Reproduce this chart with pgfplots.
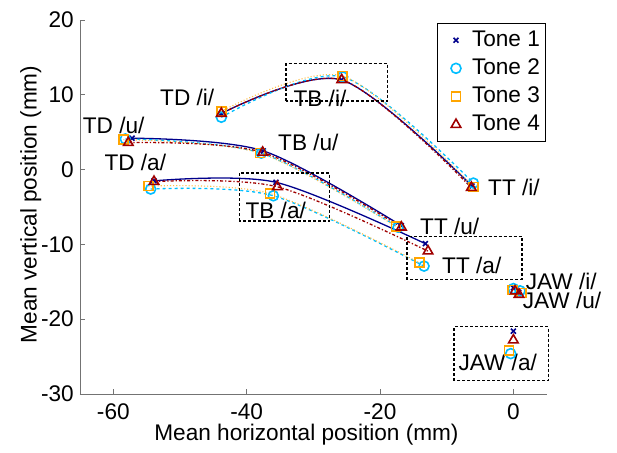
\documentclass[border=0pt]{standalone}
\usepackage{fontspec}
\setmainfont{Liberation Sans}
\usepackage{pgfplots}
\pgfplotsset{compat=1.18}
\definecolor{tone1}{RGB}{0,0,140}
\definecolor{tone2}{RGB}{0,190,255}
\definecolor{tone3}{RGB}{255,165,0}
\definecolor{tone4}{RGB}{160,0,0}
\begin{document}
\fontsize{22.7}{27}\selectfont
\begin{tikzpicture}
\begin{axis}[
 scale only axis, width=466.7bp, height=374bp,
 xmin=-65,xmax=5,ymin=-30,ymax=20,
 axis x line*=bottom, axis y line*=left,
 axis line style={-, black!55, line width=0.7bp},
 xtick={-60,-40,-20,0}, ytick={-30,-20,-10,0,10,20},
 tick align=inside, major tick length=5bp,
 tick style={black!55,line width=0.7bp},
 /pgf/number format/assume math mode=true,
 tick label style={font=\fontsize{22.7}{26}\selectfont},
 xticklabel style={yshift=-2bp},
 yticklabel style={xshift=1.5bp},
 label style={font=\fontsize{22.7}{26}\selectfont},
 xlabel={Mean horizontal position (mm)},
 ylabel={Mean vertical position (mm)},
 xlabel style={at={(axis description cs:0.4853,-0.123)}, anchor=base},
 ylabel style={at={(axis description cs:-0.0928,0.5067)}, anchor=base},
 clip=false,
 legend style={at={(axis description cs:0.997,0.991)}, anchor=north east,
   font=\fontsize{22.7}{26}\selectfont, draw=black, line width=0.8bp,
   inner xsep=3bp, inner ysep=5bp, row sep=5bp, nodes={inner sep=2bp},
   cells={anchor=west}},
 legend image code/.code={\path[draw=none,fill=none] (0bp,0bp) -- (30bp,0bp); \draw[#1] plot[only marks] coordinates {(16bp,0bp)};},
]
% curves: tone 1
\addplot[tone1, line width=1.3bp, smooth, forget plot] coordinates {(-43.8,7.5) (-25.8,12.0) (-6.2,-2.2)};
\addplot[tone1, line width=1.3bp, smooth, forget plot] coordinates {(-57.2,4.2) (-37.5,2.5) (-16.8,-7.5)};
\addplot[tone1, line width=1.3bp, smooth, forget plot] coordinates {(-53.9,-1.5) (-35.6,-1.7) (-13.2,-9.9)};
% tone 2
\addplot[tone2, line width=1.3bp, dashed, smooth, forget plot] coordinates {(-43.8,7.0) (-25.6,12.4) (-6.0,-1.8)};
\addplot[tone2, line width=1.3bp, dashed, smooth, forget plot] coordinates {(-58.2,4.1) (-37.8,2.2) (-17.3,-7.7)};
\addplot[tone2, line width=1.3bp, dashed, smooth, forget plot] coordinates {(-54.4,-2.6) (-36.0,-3.5) (-13.4,-12.9)};
% tone 3
\addplot[tone3!70, line width=1.1bp, dotted, smooth, forget plot] coordinates {(-43.8,7.8) (-25.6,12.5) (-6.0,-2.3)};
\addplot[tone3!70, line width=1.1bp, dotted, smooth, forget plot] coordinates {(-58.5,4.0) (-38.0,2.2) (-17.6,-7.6)};
\addplot[tone3!70, line width=1.1bp, dotted, smooth, forget plot] coordinates {(-54.75,-2.2) (-36.5,-3.2) (-14.1,-12.45)};
% tone 4
\addplot[tone4, line width=1.3bp, dash dot, smooth, forget plot] coordinates {(-43.8,7.5) (-25.75,12.0) (-6.3,-2.4)};
\addplot[tone4, line width=1.3bp, dash dot, smooth, forget plot] coordinates {(-57.75,3.6) (-37.6,2.3) (-16.8,-7.7)};
\addplot[tone4, line width=1.3bp, dash dot, smooth, forget plot] coordinates {(-53.9,-1.6) (-35.4,-2.3) (-12.8,-10.9)};
% markers
\addplot[only marks, mark=x, mark size=3.5bp, tone1, line width=1.6bp] coordinates {
(-43.8,7.5) (-25.8,12.0) (-6.2,-2.2) (-57.2,4.2) (-37.5,2.5) (-16.8,-7.5)
(-53.9,-1.5) (-35.6,-1.7) (-13.2,-9.9) (0,-15.8) (0.8,-16.4) (0,-21.6)};
\addlegendentry{Tone 1}
\addplot[only marks, mark=o, mark size=5bp, tone2, line width=1.6bp] coordinates {
(-43.8,7.0) (-25.6,12.4) (-6.0,-1.8) (-58.2,4.1) (-37.8,2.2) (-17.3,-7.7)
(-54.4,-2.6) (-36.0,-3.5) (-13.4,-12.9) (0,-15.9) (1.0,-16.2) (-0.4,-24.6)};
\addlegendentry{Tone 2}
\addplot[only marks, mark=square, mark size=4.5bp, tone3, line width=1.6bp] coordinates {
(-43.8,7.8) (-25.6,12.5) (-6.0,-2.3) (-58.5,4.0) (-38.0,2.2) (-17.6,-7.6)
(-54.75,-2.2) (-36.5,-3.2) (-14.1,-12.45) (-0.15,-16.1) (1.25,-16.5) (-0.65,-24.2)};
\addlegendentry{Tone 3}
\addplot[only marks, mark=triangle, mark size=5.5bp, tone4, line width=1.6bp] coordinates {
(-43.8,7.5) (-25.75,12.0) (-6.3,-2.4) (-57.75,3.6) (-37.6,2.3) (-16.8,-7.7)
(-53.9,-1.6) (-35.4,-2.3) (-12.8,-10.9) (0.25,-16.25) (0.85,-16.7) (0,-22.8)};
\addlegendentry{Tone 4}
% dashed boxes
\draw[black, line width=1.6bp, dash pattern=on 3bp off 2bp] (axis cs:-34.1,9.2) rectangle (axis cs:-18.9,14.2);
\draw[black, line width=1.6bp, dash pattern=on 3bp off 2bp] (axis cs:-41.1,-6.9) rectangle (axis cs:-27.6,-0.45);
\draw[black, line width=1.6bp, dash pattern=on 3bp off 2bp] (axis cs:-16.0,-14.7) rectangle (axis cs:1.26,-8.93);
\draw[black, line width=1.6bp, dash pattern=on 3bp off 2bp] (axis cs:-8.9,-28.2) rectangle (axis cs:5.25,-21.0);
% labels
\begin{scope}[every node/.style={anchor=west, inner sep=0pt, font=\fontsize{22.7}{26}\selectfont}]
\node at (axis cs:-53,9.7) {TD /i/};
\node at (axis cs:-33,9.5) {TB /i/};
\node at (axis cs:-3.8,-2.4) {TT /i/};
\node at (axis cs:-64.6,5.9) {TD /u/};
\node at (axis cs:-35.3,3.7) {TB /u/};
\node at (axis cs:-61.35,0.9) {TD /a/};
\node at (axis cs:-40.2,-5.45) {TB /a/};
\node at (axis cs:-14.0,-7.6) {TT /u/};
\node at (axis cs:-10.7,-12.8) {TT /a/};
\node at (axis cs:1.85,-14.95) {JAW /i/};
\node at (axis cs:1.4,-17.5) {JAW /u/};
\node at (axis cs:-8.25,-25.8) {JAW /a/};
\end{scope}
\path (axis description cs:-0.1714,-0.1364) rectangle (axis description cs:1.1506,1.0535);
\end{axis}
\end{tikzpicture}
\end{document}
